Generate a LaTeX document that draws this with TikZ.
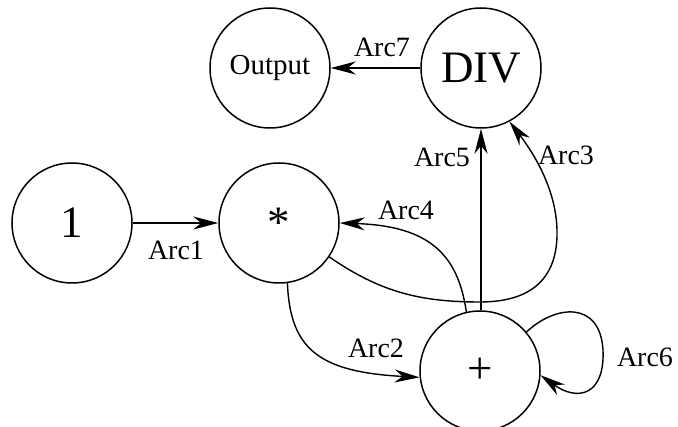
\documentclass[tikz,border=0pt]{standalone}
\usepackage{fontspec}
\setmainfont{Liberation Serif}
\usetikzlibrary{arrows.meta}
\tikzset{
  state/.style={circle, draw, line width=1.5pt, minimum size=120pt, inner sep=0pt},
  bigtxt/.style={font=\fontsize{45}{47}\selectfont},
  midtxt/.style={font=\fontsize{29}{31}\selectfont},
  lbl/.style={inner sep=0pt, font=\fontsize{28}{30}\selectfont},
  arc/.style={line width=1.4pt, -{Stealth[length=25pt, width=13pt, inset=8pt]}},
}
\begin{document}
\begin{tikzpicture}[x=1pt, y=-1pt]
\useasboundingbox (0,0) rectangle (678,427);
\node[state, midtxt] (out) at (270,68) {Output};
\node[state, bigtxt] (div) at (481,68) {DIV};
\node[state, bigtxt] (one) at (72,223) {1};
\node[state, bigtxt] (star) at (279,223) {*};
\node[state, bigtxt] (plus) at (480,371) {+};

\draw[arc] (div) -- (out);
\draw[arc] (one) -- (star);
\draw[arc] (plus.north -| div.south) -- (div.south);
\draw[arc] (star.-34) .. controls (380,292) and (420,302) .. (480,302)
  .. controls (540,302) and (558,270) .. (557,230)
  .. controls (556,190) and (535,155) .. (div.-62);
\draw[arc] (plus.103) .. controls (458,255) and (430,226) .. (star.east);
\draw[arc] (star.-82) .. controls (290,350) and (320,372) .. (plus.186);
\draw[arc] (plus.40) .. controls (555,305) and (600,300) .. (603,350)
  .. controls (605,395) and (578,402) .. (plus.-4);

\node[lbl] (l7) at (382,47) {Arc7};
\node[lbl] (l1) at (176,250) {Arc1};
\node[lbl] (l5) at (442,157) {Arc5};
\node[lbl] (l3) at (566,155) {Arc3};
\node[lbl] (l4) at (406,210) {Arc4};
\node[lbl] (l2) at (376,348) {Arc2};
\node[lbl] (l6) at (645,357) {Arc6};
\end{tikzpicture}
\end{document}
